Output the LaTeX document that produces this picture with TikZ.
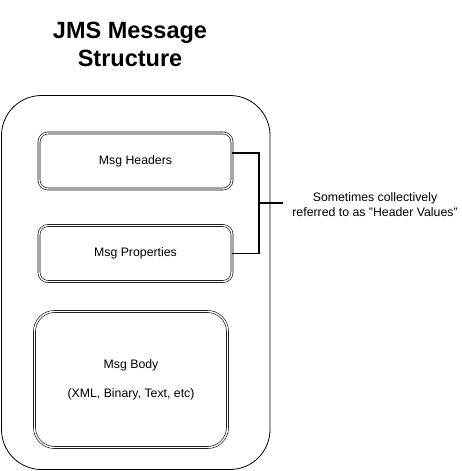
\documentclass[tikz,border=0pt]{standalone}
\usepackage{fontspec}
\setmainfont{Liberation Sans}
\begin{document}
\begin{tikzpicture}[x=1pt, y=-1pt,
  part/.style={draw, double=white, double distance=1.4pt, line width=.6pt, rounded corners=9pt, minimum width=193pt, minimum height=56pt, inner sep=0pt, font=\fontsize{12.3}{15}\selectfont, align=center},
  link/.style={line width=1.5pt}]
        \useasboundingbox (0,0) rectangle (461,471);
        \node[font=\bfseries\fontsize{23.5}{28}\selectfont, align=center] (title) at (130,44) {JMS Message\\Structure};
        \node[draw, line width=.8pt, rounded corners=40pt, minimum width=268.5pt, minimum height=374pt] (msg) at (135.75,282.5) {};
        \node[part] (hdr) at (135.5,161) {Msg Headers};
        \node[part] (props) at (135.5,253.5) {Msg Properties};
        \node[part, rounded corners=20pt, minimum height=136pt] (body) at (131,379.5) {Msg Body\\[14pt](XML, Binary, Text, etc)};
        \node[font=\fontsize{12.3}{15}\selectfont, align=center] (note) at (375,204.5) {Sometimes collectively\\referred to as "Header Values"};
        \coordinate (jn) at (259,203);
        \coordinate (stub) at (283,203);
        \draw[link] ([yshift=8pt]hdr.east) -| (jn) |- (props.east);
        \draw[link] (jn)--(stub);
        \end{tikzpicture}
\end{document}
